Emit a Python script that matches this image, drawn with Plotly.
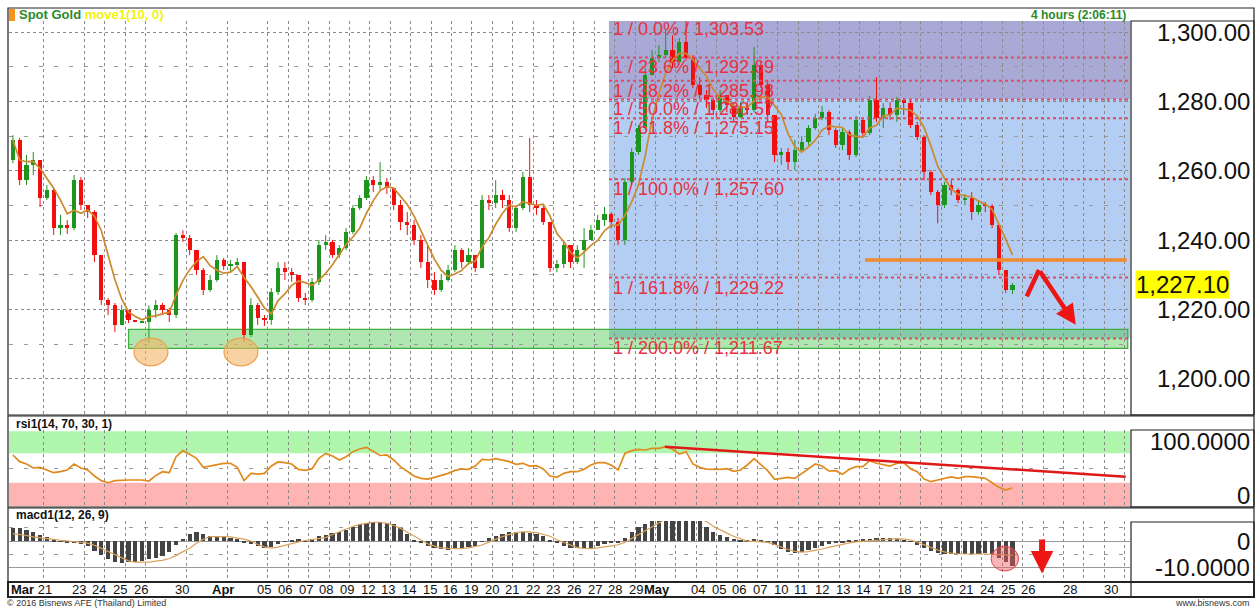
import plotly.graph_objects as go

W, H = 1256, 609

# ---------------- data (8-hour bars, 3 per trading day) ----------------
first_open = 1263.1
close = [1268.9,1257.3,1261.7,1263.1,1252.2,1254.5,1243.5,1244.4,1243.5,1257.3,
         1250.1,1248.1,1235.7,1222.8,1221.3,1215.6,1219.9,1217.0,1216.4,1216.4,
         1219.9,1221.3,1219.9,1218.4,1241.5,1240.6,1237.2,1231.4,1225.7,1228.5,
         1234.3,1232.6,1232.9,1233.7,1212.7,1221.3,1217.6,1217.0,1225.1,1232.0,
         1230.8,1230.0,1223.3,1222.8,1228.0,1238.6,1239.5,1235.7,1237.7,1242.4,
         1249.3,1252.2,1257.3,1255.9,1256.8,1255.0,1250.1,1245.2,1244.4,1240.1,
         1233.7,1228.5,1225.7,1228.5,1231.4,1237.2,1233.7,1235.7,1232.0,1251.6,
         1250.7,1253.0,1251.6,1243.5,1249.3,1258.2,1250.1,1249.3,1245.2,1232.0,
         1233.1,1238.6,1233.7,1237.2,1240.1,1242.9,1245.8,1247.6,1245.2,1240.1,
         1256.8,1265.4,1272.3,1287.6,1292.5,1293.4,1294.8,1291.4,1297.1,1292.5,
         1284.7,1281.8,1280.4,1277.5,1281.8,1279.0,1275.5,1278.1,1277.5,1290.5,
         1284.7,1276.1,1264.6,1265.4,1262.5,1266.0,1268.3,1272.3,1275.2,1276.9,
         1271.8,1267.4,1271.2,1264.6,1274.6,1270.9,1280.4,1275.2,1278.1,1276.1,
         1280.4,1279.5,1273.2,1269.7,1259.7,1253.9,1250.1,1255.9,1254.5,1251.6,
         1252.2,1248.1,1250.1,1249.9,1244.4,1231.4,1225.7,1227.1]
high = [1270.3,1269.5,1264.6,1265.4,1263.1,1255.9,1255.0,1247.3,1245.8,1258.8,
        1258.2,1250.1,1248.7,1235.7,1223.3,1221.9,1221.3,1219.3,1216.4,1216.4,
        1221.3,1222.8,1221.9,1220.5,1242.1,1242.9,1241.5,1237.2,1232.0,1230.0,
        1235.7,1234.9,1234.3,1234.9,1233.7,1223.3,1221.9,1218.4,1226.2,1233.7,
        1233.7,1232.0,1230.0,1224.8,1229.1,1240.1,1241.5,1240.1,1238.6,1243.5,
        1250.1,1253.0,1258.5,1258.5,1262.5,1257.9,1255.0,1251.6,1248.1,1245.8,
        1241.5,1238.6,1230.8,1230.3,1232.9,1238.6,1237.7,1237.7,1235.7,1253.0,
        1253.0,1257.3,1254.5,1253.0,1250.1,1259.7,1269.5,1251.6,1250.1,1245.2,
        1234.3,1239.5,1238.6,1238.6,1243.5,1244.4,1247.3,1249.6,1248.1,1246.4,
        1257.9,1266.6,1273.2,1289.6,1294.8,1296.3,1300.6,1299.1,1298.3,1303.5,
        1293.4,1287.0,1283.3,1281.0,1283.3,1281.8,1279.5,1279.8,1279.8,1295.7,
        1291.4,1286.2,1276.1,1266.6,1266.6,1268.9,1270.0,1273.2,1276.4,1278.7,
        1277.5,1272.3,1272.3,1271.8,1275.8,1275.2,1281.6,1287.0,1279.5,1279.8,
        1281.3,1281.0,1280.4,1274.1,1270.3,1260.2,1254.5,1256.8,1257.3,1255.0,
        1253.3,1253.9,1251.6,1251.0,1250.4,1244.4,1231.4,1227.7]
low = [1262.2,1255.9,1255.9,1258.8,1249.6,1251.6,1241.5,1241.5,1241.8,1242.9,
       1248.7,1246.4,1233.7,1221.3,1218.4,1213.5,1215.6,1216.1,1216.4,1216.4,
       1210.4,1217.6,1218.4,1216.4,1217.6,1239.5,1235.7,1230.0,1224.2,1225.1,
       1228.0,1231.4,1230.8,1232.0,1210.7,1212.1,1215.6,1215.3,1215.6,1224.2,
       1228.5,1228.0,1222.2,1221.3,1222.2,1227.1,1237.2,1234.9,1234.9,1237.2,
       1241.8,1248.7,1251.6,1253.9,1254.5,1253.3,1248.7,1242.9,1241.5,1238.6,
       1232.0,1226.2,1224.2,1225.1,1228.0,1230.8,1232.0,1232.9,1230.8,1232.0,
       1248.7,1249.3,1249.3,1242.4,1242.4,1248.7,1248.1,1247.3,1244.4,1230.8,
       1230.8,1232.0,1232.0,1233.1,1232.0,1241.2,1242.9,1244.1,1243.5,1238.6,
       1238.6,1255.9,1264.6,1271.8,1288.5,1291.4,1292.5,1289.6,1290.5,1291.9,
       1283.9,1281.0,1278.1,1276.1,1276.9,1276.9,1274.1,1275.2,1276.1,1276.9,
       1283.9,1274.1,1262.5,1261.7,1260.2,1260.2,1265.4,1267.4,1271.8,1274.6,
       1270.3,1266.6,1266.0,1263.1,1264.0,1269.5,1270.3,1274.1,1272.3,1274.6,
       1274.1,1276.1,1272.3,1268.9,1257.3,1253.0,1244.9,1249.3,1253.0,1250.7,
       1250.1,1245.8,1247.3,1248.1,1243.5,1230.0,1224.8,1224.5]
rsi = [67.7,58.6,55.5,50.0,50.9,47.3,43.6,45.0,47.3,55.5,50.0,47.3,39.1,32.8,30.0,
       32.8,33.7,33.7,33.7,33.7,32.3,39.6,45.0,43.6,65.4,73.6,68.6,63.2,50.9,52.7,
       55.0,56.4,56.4,50.9,32.8,42.7,41.8,42.7,52.7,58.2,57.3,55.5,48.2,46.8,49.1,
       63.2,69.9,66.3,60.9,65.4,72.2,75.8,78.1,73.1,67.0,67.7,60.9,51.8,45.0,39.1,
       35.9,35.0,37.3,40.0,42.7,46.8,48.6,48.2,52.7,61.8,60.9,62.7,60.9,58.6,55.0,
       56.4,52.7,53.2,48.6,39.1,37.3,42.7,45.0,45.0,48.2,54.1,57.3,57.3,54.1,47.3,
       69.9,73.6,75.4,74.5,76.8,76.8,79.0,75.4,69.0,72.2,55.5,50.9,48.6,48.2,48.2,
       49.1,45.5,47.3,54.1,62.7,54.1,46.4,34.6,35.9,37.3,35.9,42.7,49.5,55.5,52.7,
       45.9,46.4,41.4,48.2,51.8,51.8,60.0,56.4,54.1,52.7,56.4,57.3,49.1,45.0,35.0,
       31.4,33.7,35.9,37.8,35.9,38.2,38.2,37.3,35.9,30.0,23.7,20.1,23.2]
macd = [4.75,4.75,4.2,3.5,2.4,1.4,0.4,-0.1,-0.4,-0.6,-1.0,-2.0,-3.6,-5.2,-6.8,
        -7.9,-8.3,-8.1,-7.8,-7.4,-6.8,-6.3,-5.5,-4.0,-1.6,0.8,2.8,3.4,2.7,1.9,
        1.7,1.5,1.3,0.7,-0.5,-1.2,-2.0,-2.7,-2.2,-1.3,-0.3,0.5,0.6,-0.1,0.6,
        1.9,2.4,2.9,3.5,4.3,5.5,6.4,7.0,7.2,7.3,7.0,6.6,4.8,2.6,0.5,
        -0.9,-1.9,-2.6,-3.0,-3.2,-3.0,-2.7,-2.3,-1.8,-0.1,1.2,2.0,2.6,3.4,3.5,
        3.5,3.2,2.6,2.1,0.2,-0.9,-1.8,-2.6,-2.8,-2.8,-2.5,-1.9,-1.2,-0.8,-0.6,
        1.2,3.4,5.4,6.6,8.0,8.5,9.2,9.5,9.4,9.0,8.4,7.6,5.5,3.6,2.4,
        1.4,0.9,0.3,0.5,0.8,0.4,-0.4,-1.5,-3.0,-4.0,-4.4,-4.2,-3.5,-2.8,-1.7,
        -1.0,-0.7,-0.5,0.2,0.5,0.7,0.9,1.0,1.1,1.1,0.8,0.4,-0.1,-1.5,-2.6,
        -3.8,-4.5,-4.9,-4.9,-4.9,-4.9,-4.9,-4.8,-4.7,-5.0,-6.5,-8.0,-9.5]
signal = [2.8,2.5,2.1,1.6,1.2,0.8,0.6,0.3,0.0,-0.2,-0.4,-0.8,-1.6,-2.8,-4.2,
          -5.3,-6.4,-7.5,-8.0,-8.1,-8.0,-7.6,-7.3,-6.6,-5.5,-4.0,-2.7,-0.8,0.7,1.7,
          1.8,1.7,1.6,1.2,0.7,0.0,-1.3,-2.2,-2.7,-2.3,-1.6,-0.9,-0.3,0.2,0.5,
          0.8,1.3,2.5,3.6,4.6,5.5,6.3,6.8,7.1,7.1,6.7,5.9,4.8,3.3,1.8,
          0.3,-1.0,-1.9,-2.6,-2.8,-2.9,-2.9,-2.6,-2.1,-1.5,-0.4,0.8,1.7,2.5,3.2,
          3.5,3.5,3.2,2.6,1.8,0.5,-0.6,-1.7,-2.5,-2.8,-2.9,-2.6,-2.1,-1.8,-1.4,
          -0.5,1.0,2.5,4.0,5.5,7.0,8.3,9.0,9.4,9.5,9.2,8.4,7.4,5.6,4.2,
          3.0,1.8,0.8,0.0,-0.1,-0.3,-0.5,-1.3,-2.3,-3.2,-3.9,-4.2,-4.0,-3.6,-3.0,
          -2.4,-1.8,-1.2,-0.7,-0.3,-0.1,0.2,0.5,0.7,0.9,0.9,0.7,0.4,-0.4,-1.5,
          -2.5,-3.4,-4.1,-4.6,-4.8,-4.9,-4.9,-4.9,-4.9,-5.0,-5.0,-5.2,-5.4]

# x axis: trading-day index (Mar 21 = 0), bars every 1/3 day
bars_per_day = 3
first_bar_day = -1.5
grid_days = [0, 2, 3, 4, 5, 7, 9] + list(range(11, 54))
label_days = [0, 2, 3, 4, 5, 7, 9, 11, 12, 13, 14, 15, 16, 17, 18, 19, 20, 21, 22, 23,
              24, 25, 26, 27, 28, 29, 30, 32, 33, 34, 35, 36, 37, 38, 39, 40, 41, 42,
              43, 44, 45, 46, 47, 48, 50, 52]
label_text = ['<b>Mar</b> 21', '23', '24', '25', '26', '30', '<b>Apr</b>', '05', '06', '07',
              '08', '09', '12', '13', '14', '15', '16', '19', '20', '21', '22', '23', '26',
              '27', '28', '29', '<b>May</b>', '04', '05', '06', '07', '10', '11', '12', '13',
              '14', '17', '18', '19', '20', '21', '24', '25', '26', '28', '30']

price_ticks = [1200, 1220, 1240, 1260, 1280, 1300]
price_minor = [1190, 1210, 1230, 1250, 1270, 1290]
last_price = 1227.10

fib_levels = [1303.53, 1292.69, 1285.98, 1280.57, 1275.15, 1257.60, 1229.22, 1211.67]
fib_pcts = ['0.0%', '23.6%', '38.2%', '50.0%', '61.8%', '100.0%', '161.8%', '200.0%']
fib_start_day = 27.72
support_zone = (1208.8, 1214.3)
support_start_day = 4.17
resistance_level = 1234.3
resistance_start_day = 40.27
rsi_trend = ([30.46, 53.05], [79.0, 38.2])
ma_window = 5   # 10 four-hour bars = 5 eight-hour bars

# ---------------- derived ----------------
n = len(close)
xs = [first_bar_day + k / bars_per_day for k in range(n)]
opens = [first_open] + close[:-1]
hi = [max(h, o, c) for h, o, c in zip(high, opens, close)]
lo = [min(l, o, c) for l, o, c in zip(low, opens, close)]
ma = []
for k in range(n):
    w = close[max(0, k - ma_window + 1):k + 1]
    ma.append(sum(w) / len(w))

X_RANGE = [-1.69, 53.26]
Y_RANGE = [1189.9, 1303.2]
UP, DN = '#1f951f', '#f01010'

def PX(px):
    return px / W

def PY(py):
    return 1 - py / H

fig = go.Figure()

# candles: wicks + bodies
for up, col in ((True, UP), (False, DN)):
    idx = [k for k in range(n) if (close[k] >= opens[k]) == up]
    wx, wy = [], []
    for k in idx:
        wx += [xs[k], xs[k], None]
        wy += [lo[k], hi[k], None]
    fig.add_trace(go.Scatter(x=wx, y=wy, mode='lines', line=dict(color=col, width=1),
                             hoverinfo='skip', showlegend=False, xaxis='x', yaxis='y'))
    fig.add_trace(go.Bar(x=[xs[k] for k in idx],
                         y=[max(abs(close[k] - opens[k]), 0.3) for k in idx],
                         base=[min(close[k], opens[k]) for k in idx],
                         width=0.2, marker=dict(color=col, line=dict(width=0)),
                         showlegend=False, xaxis='x', yaxis='y'))

fig.add_trace(go.Scatter(x=xs, y=ma, mode='lines', line=dict(color='#cc8a2e', width=1.7),
                         showlegend=False, xaxis='x', yaxis='y'))

# RSI
fig.add_trace(go.Scatter(x=xs, y=rsi, mode='lines', line=dict(color='#e08a1e', width=1.7),
                         showlegend=False, xaxis='x2', yaxis='y2'))
fig.add_trace(go.Scatter(x=rsi_trend[0], y=rsi_trend[1], mode='lines',
                         line=dict(color='#e01818', width=2.5),
                         showlegend=False, xaxis='x2', yaxis='y2'))

# MACD
fig.add_trace(go.Bar(x=xs, y=macd, width=0.2, marker=dict(color='#444444', line=dict(width=0)),
                     showlegend=False, xaxis='x3', yaxis='y3'))
fig.add_trace(go.Scatter(x=xs, y=signal, mode='lines', line=dict(color='#d9a25c', width=1.2),
                         showlegend=False, xaxis='x3', yaxis='y3'))

shapes = []
annotations = []

# fib shading
fib_end = X_RANGE[1]
shapes.append(dict(type='rect', xref='x', yref='y', x0=fib_start_day, x1=fib_end,
                   y0=fib_levels[3], y1=fib_levels[0], fillcolor='#a9a9d6', line_width=0, layer='below'))
shapes.append(dict(type='rect', xref='x', yref='y', x0=fib_start_day, x1=fib_end,
                   y0=fib_levels[7], y1=fib_levels[3], fillcolor='#b3cdf3', line_width=0, layer='below'))
# support zone
shapes.append(dict(type='rect', xref='x', yref='y', x0=support_start_day, x1=53.15,
                   y0=support_zone[0], y1=support_zone[1], fillcolor='rgba(80,200,80,0.45)',
                   line=dict(color='#3cb03c', width=1.2), layer='below'))
for lev, pct in zip(fib_levels, fib_pcts):
    shapes.append(dict(type='line', xref='x', yref='y', x0=fib_start_day, x1=fib_end, y0=lev, y1=lev,
                       line=dict(color='#e8485a', width=2, dash='dot'), layer='above'))
    inside = lev < Y_RANGE[1]
    annotations.append(dict(xref='x', yref='y', x=fib_start_day + 0.08, y=lev if inside else Y_RANGE[1],
                            text=f'1 / {pct} / {lev:,.2f}', showarrow=False,
                            xanchor='left', yanchor='top', yshift=2 if inside else 4,
                            font=dict(family='Arial', size=18, color='#e8303f')))

# circles
for cx in (5.27, 9.68):
    shapes.append(dict(type='circle', xref='x', yref='y', x0=cx - 0.83, x1=cx + 0.83,
                       y0=1207.8 - 4.0, y1=1207.8 + 4.0, fillcolor='rgba(243,180,100,0.6)',
                       line=dict(color='#eba050', width=1.2), layer='above'))
# resistance line
shapes.append(dict(type='line', xref='x', yref='y', x0=resistance_start_day, x1=53.1,
                   y0=resistance_level, y1=resistance_level,
                   line=dict(color='#f28a2e', width=3.5), layer='above'))
# red zigzag arrow
shapes.append(dict(type='line', xref='x', yref='y', x0=48.2, y0=1223.8, x1=48.8, y1=1231.4,
                   line=dict(color='#ee1515', width=4.5), layer='above'))
annotations.append(dict(xref='x', yref='y', axref='x', ayref='y', x=50.6, y=1215.6,
                        ax=48.8, ay=1231.4, showarrow=True, arrowhead=2, arrowsize=0.9,
                        arrowwidth=4.5, arrowcolor='#ee1515', text=''))
# MACD circle and arrow
shapes.append(dict(type='circle', xref='x3', yref='y3', x0=46.45, x1=47.8, y0=-11.3, y1=-2.0,
                   fillcolor='rgba(240,90,90,0.45)', line=dict(color='#e04848', width=1), layer='above'))
annotations.append(dict(xref='x3', yref='y3', axref='x3', ayref='y3', x=48.95, y=-12.3,
                        ax=48.95, ay=1.2, showarrow=True, arrowhead=2, arrowsize=0.75,
                        arrowwidth=6, arrowcolor='#ee1515', text=''))

# RSI bands
shapes.append(dict(type='rect', xref='x2', yref='y2', x0=X_RANGE[0], x1=X_RANGE[1], y0=70, y1=100,
                   fillcolor='#b0f5ac', line_width=0, layer='below'))
shapes.append(dict(type='rect', xref='x2', yref='y2', x0=X_RANGE[0], x1=X_RANGE[1], y0=-5, y1=30,
                   fillcolor='#ffb4b4', line_width=0, layer='below'))

# frames
def box(x0, y0, x1, y1, w=1.2):
    shapes.append(dict(type='rect', xref='paper', yref='paper', x0=PX(x0), x1=PX(x1),
                       y0=PY(y1), y1=PY(y0), line=dict(color='#222', width=w),
                       fillcolor='rgba(0,0,0,0)', layer='above'))

box(8, 8, 1254, 415)
box(1131, 21, 1254, 415)
box(8, 416, 1254, 507)
box(1131, 430, 1254, 507)
box(8, 508, 1254, 582)
box(1131, 522, 1254, 582)
box(8, 582, 1254, 597, 2)
box(1131, 582, 1254, 597)
shapes.append(dict(type='rect', xref='paper', yref='paper', x0=PX(9), x1=PX(15), y0=PY(21), y1=PY(9),
                   fillcolor='#f7941d', line_width=0, layer='above'))

# price labels
AX_FONT = dict(family='Arial', size=24, color='#111')
for v in price_ticks:
    annotations.append(dict(xref='paper', yref='y', x=PX(1252), y=v, text=f'{v:,.2f}',
                            showarrow=False, xanchor='right', yanchor='middle', font=AX_FONT))
annotations.append(dict(xref='paper', yref='y', x=PX(1135), y=last_price, text=f'{last_price:,.2f}',
                        showarrow=False, xanchor='left', yanchor='middle', bgcolor='#ffff00',
                        borderpad=0, font=AX_FONT))
for txt, yy in (('100.0000', 441.7), ('0', 495)):
    annotations.append(dict(xref='paper', yref='paper', x=PX(1252), y=PY(yy), text=txt,
                            showarrow=False, xanchor='right', yanchor='middle', font=AX_FONT))
for txt, v in (('0', 0), ('-10.0000', -10)):
    annotations.append(dict(xref='paper', yref='y3', x=PX(1252), y=v, text=txt,
                            showarrow=False, xanchor='right', yanchor='middle', font=AX_FONT))

# x labels
for d, t in zip(label_days, label_text):
    off = -0.6 if d == 0 else (-0.3 + 0.012 * d)
    annotations.append(dict(xref='x3', yref='paper', x=d + off, y=PY(589.5), text=t,
                            showarrow=False, xanchor='center', yanchor='middle',
                            font=dict(family='Arial', size=13, color='#111')))

# titles
annotations.append(dict(xref='paper', yref='paper', x=PX(17), y=PY(14.5), xanchor='left', yanchor='middle',
                        text="<b><span style='color:#2b8a2b'>Spot Gold</span> "
                             "<span style='color:#f2f20a'>move1(10, 0)</span></b>",
                        showarrow=False, font=dict(family='Arial', size=13)))
annotations.append(dict(xref='paper', yref='paper', x=PX(1128), y=PY(14.5), xanchor='right', yanchor='middle',
                        text='<b>4 hours (2:06:11)</b>', showarrow=False,
                        font=dict(family='Arial', size=12, color='#2b8a2b')))
annotations.append(dict(xref='paper', yref='paper', x=PX(14), y=PY(423.5), xanchor='left', yanchor='middle',
                        text='<b>rsi1(14, 70, 30, 1)</b>', showarrow=False,
                        font=dict(family='Arial', size=12, color='#111')))
annotations.append(dict(xref='paper', yref='paper', x=PX(14), y=PY(515), xanchor='left', yanchor='middle',
                        text='<b>macd1(12, 26, 9)</b>', showarrow=False,
                        font=dict(family='Arial', size=12, color='#111')))
annotations.append(dict(xref='paper', yref='paper', x=PX(5), y=PY(603), xanchor='left', yanchor='middle',
                        text='© 2016 Bisnews AFE (Thailand) Limited', showarrow=False,
                        font=dict(family='Arial', size=9, color='#333')))
annotations.append(dict(xref='paper', yref='paper', x=PX(1252), y=PY(603), xanchor='right', yanchor='middle',
                        text='www.bisnews.com', showarrow=False,
                        font=dict(family='Arial', size=9, color='#333')))

xdom = [PX(9), PX(1130)]
xcommon = dict(range=X_RANGE, domain=xdom, tickmode='array', tickvals=grid_days, showticklabels=False,
               showgrid=True, gridcolor='#8a8a8a', griddash='dot', gridwidth=1, zeroline=False,
               showline=False, ticks='')

fig.update_layout(
    width=W, height=H, autosize=False, margin=dict(l=0, r=0, t=0, b=0),
    paper_bgcolor='white', plot_bgcolor='white', barmode='overlay', bargap=0,
    showlegend=False, shapes=shapes, annotations=annotations,
    xaxis=dict(**xcommon, anchor='y'),
    xaxis2=dict(**xcommon, anchor='y2', matches='x'),
    xaxis3=dict(**xcommon, anchor='y3', matches='x'),
    yaxis=dict(domain=[PY(414), PY(21)], range=Y_RANGE, tickmode='array', tickvals=price_ticks,
               showticklabels=False, showgrid=True, gridcolor='#8a8a8a', griddash='dot', zeroline=False,
               minor=dict(tickmode='array', tickvals=price_minor, showgrid=True, gridcolor='#999',
                          griddash='4px,11px', ticks=''),
               anchor='x', fixedrange=True),
    yaxis2=dict(domain=[PY(506), PY(430)], range=[-1.7, 101.7], tickmode='array', tickvals=[50],
                showticklabels=False, showgrid=True, gridcolor='#999', griddash='4px,11px',
                zeroline=False, anchor='x2'),
    yaxis3=dict(domain=[PY(581), PY(521)], range=[-15.1, 7.58], tickmode='array', tickvals=[0, -10],
                showticklabels=False, showgrid=True, gridcolor='#9a9a9a', zeroline=False, anchor='x3',
                minor=dict(tickmode='array', tickvals=[5, -5, -15], showgrid=True, gridcolor='#999',
                           griddash='4px,11px', ticks='')),
)

fig.write_html('out.html', config={'displayModeBar': False},
               post_script="document.body.style.margin='0px';document.body.style.overflow='hidden';")
